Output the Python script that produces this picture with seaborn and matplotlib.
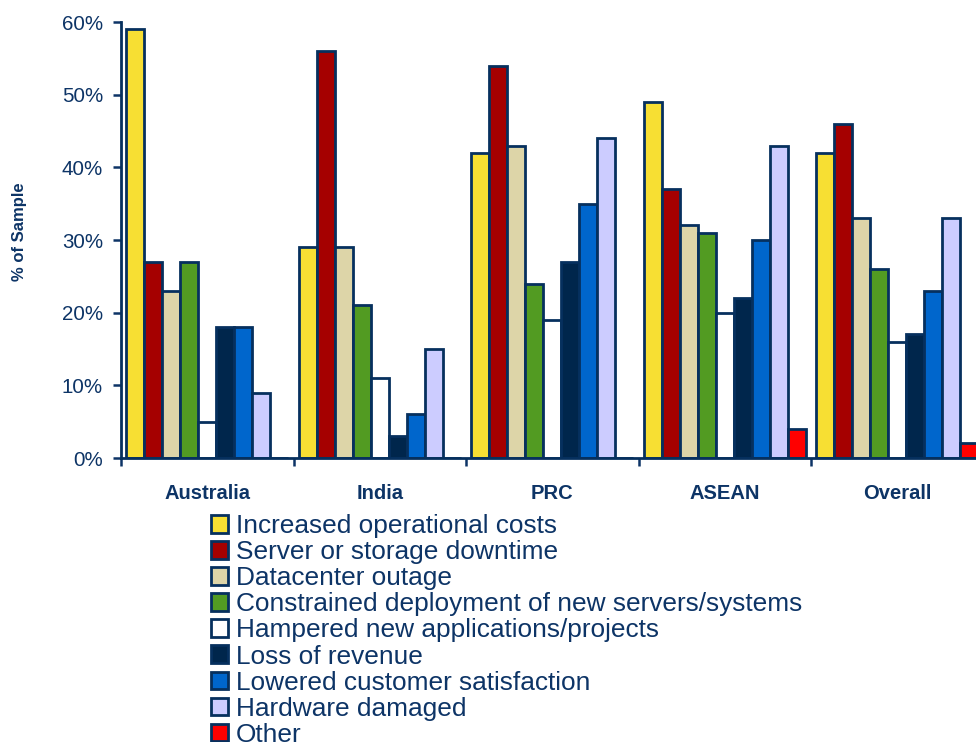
import numpy as np
import pandas as pd
import matplotlib
matplotlib.use("Agg")
import matplotlib.pyplot as plt
import seaborn as sns
from matplotlib.ticker import PercentFormatter

# -------------------------------------------------------------------
# data
# -------------------------------------------------------------------
regions = ["Australia", "India", "PRC", "ASEAN", "Overall"]
impacts = ["Increased operational costs", "Server or storage downtime", "Datacenter outage",
           "Constrained deployment of new servers/systems", "Hampered new applications/projects",
           "Loss of revenue", "Lowered customer satisfaction", "Hardware damaged", "Other"]
australia = [59, 27, 23, 27, 5, 18, 18, 9, 0]
india = [29, 56, 29, 21, 11, 3, 6, 15, 0]
prc = [42, 54, 43, 24, 19, 27, 35, 44, 0]
asean = [49, 37, 32, 31, 20, 22, 30, 43, 4]
overall = [42, 46, 33, 26, 16, 17, 23, 33, 2]
colors = ["#F7DF33", "#A50000", "#DDD5A8", "#529B22", "#FFFFFF",
          "#00264C", "#0066CC", "#CCCCFF", "#FF0000"]

# -------------------------------------------------------------------
# style
# -------------------------------------------------------------------
sns.set_style("white")
plt.rcParams["font.family"] = ["Liberation Sans", "DejaVu Sans"]
navy = "#0D3466"
edge = "#06305E"


def main():
    rows = []
    for reg, vals in zip(regions, [australia, india, prc, asean, overall]):
        for imp, v in zip(impacts, vals):
            rows.append({"region": reg, "impact": imp, "value": v})
    df = pd.DataFrame(rows)

    fig = plt.figure(figsize=(9.76, 7.42), dpi=100)
    ax = fig.add_axes([121 / 976, 284 / 742, 862.5 / 976, 436 / 742])

    sns.barplot(data=df, x="region", y="value", hue="impact", order=regions, hue_order=impacts,
                palette=colors, width=0.94, gap=0, edgecolor=edge, linewidth=2.0,
                saturation=1, errorbar=None, ax=ax)

    ax.set_xlim(-0.5, 4.5)
    ax.set_ylim(0, 60)
    ax.set_yticks(np.arange(0, 61, 10))
    ax.yaxis.set_major_formatter(PercentFormatter(decimals=0))
    ax.tick_params(axis="y", colors=navy, labelsize=14.8, length=6, width=1.8,
                   direction="out", pad=7, left=True)

    ax.set_xticks(np.arange(-0.5, 5, 1))
    ax.set_xticklabels([""] * 6)
    ax.set_xticks(range(5), minor=True)
    ax.set_xticklabels(regions, minor=True, fontweight="bold", fontsize=14.5, color=navy)
    ax.tick_params(axis="x", which="major", length=6, width=1.8, colors=navy, bottom=True,
                   direction="out")
    ax.tick_params(axis="x", which="minor", length=0, pad=19)

    ax.set_xlabel("")
    ax.set_ylabel("% of Sample", fontweight="bold", fontsize=12, color=navy)
    ax.yaxis.set_label_coords(-0.109, 0.518)

    sns.despine(ax=ax)
    for s in ["left", "bottom"]:
        ax.spines[s].set_color(edge)
        ax.spines[s].set_linewidth(2)

    handles, labels = ax.get_legend_handles_labels()
    ax.legend(handles, labels, loc="upper left", bbox_to_anchor=(211 / 976, 1 - 514 / 742),
              bbox_transform=fig.transFigure, frameon=False, fontsize=18.9,
              labelcolor=navy, handlelength=0.66, handleheight=0.66, handletextpad=0.3,
              labelspacing=0.08, borderaxespad=0, borderpad=0)

    plt.savefig("out.png", dpi=100)


# -------------------------------------------------------------------
# main
# -------------------------------------------------------------------
if __name__ == '__main__':
    main()
